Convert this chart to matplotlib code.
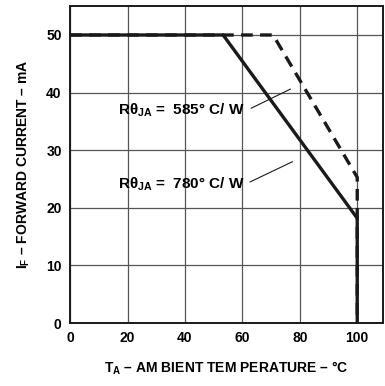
import matplotlib.pyplot as plt

plt.rcParams['font.family'] = ['Liberation Sans', 'DejaVu Sans']
plt.rcParams['font.weight'] = 'bold'
plt.rcParams['mathtext.fontset'] = 'custom'
plt.rcParams['mathtext.rm'] = 'Liberation Sans:bold'
plt.rcParams['mathtext.it'] = 'Liberation Sans:bold'
plt.rcParams['mathtext.bf'] = 'Liberation Sans:bold'

# derating curves (ambient temperature in C, forward current in mA)
temp_780 = [0, 53.3, 100, 100]
curr_780 = [50, 50, 18.2, 0]
temp_585 = [0, 70.7, 100, 100]
curr_585 = [50, 50, 25.3, 0]

xticks = [0, 20, 40, 60, 80, 100]
yticks = [0, 10, 20, 30, 40, 50]

fig = plt.figure(figsize=(3.85, 3.86), dpi=100)
ax = fig.add_axes([0.182, 0.163, 0.813, 0.821])

ax.plot(temp_585, curr_585, color='#1a1a1a', lw=2.4, ls=(0, (3.5, 2.2)), zorder=3)
ax.plot(temp_780, curr_780, color='#1a1a1a', lw=2.4, zorder=4)

ax.set_xlim(0, 109)
ax.set_ylim(0, 55)
ax.set_xticks(xticks)
ax.set_yticks(yticks)
ax.tick_params(length=0, labelsize=10, pad=6)
for lab in ax.get_xticklabels() + ax.get_yticklabels():
    lab.set_fontweight('bold')
ax.grid(True, color='#555555', lw=0.9)
for s in ax.spines.values():
    s.set_linewidth(1.4)
    s.set_color('#1a1a1a')

ax.text(16.7, 37.0, r'R$\theta_{JA}$ =  585° C/ W', fontsize=11, va='center',
        fontweight='bold')
ax.plot([63.1, 76.7], [37.3, 40.6], color='#1a1a1a', lw=0.8)
ax.text(16.7, 24.0, r'R$\theta_{JA}$ =  780° C/ W', fontsize=11, va='center',
        fontweight='bold')
ax.plot([62.7, 77.4], [24.5, 28.0], color='#1a1a1a', lw=0.8)

ax.set_xlabel(r'T$_A$ – AM BIENT TEM PERATURE – °C', fontsize=10,
              fontweight='bold', labelpad=10)
ax.set_ylabel(r'I$_F$ – FORWARD CURRENT – mA', fontsize=10,
              fontweight='bold', labelpad=10)

fig.savefig('out.png', dpi=100)
